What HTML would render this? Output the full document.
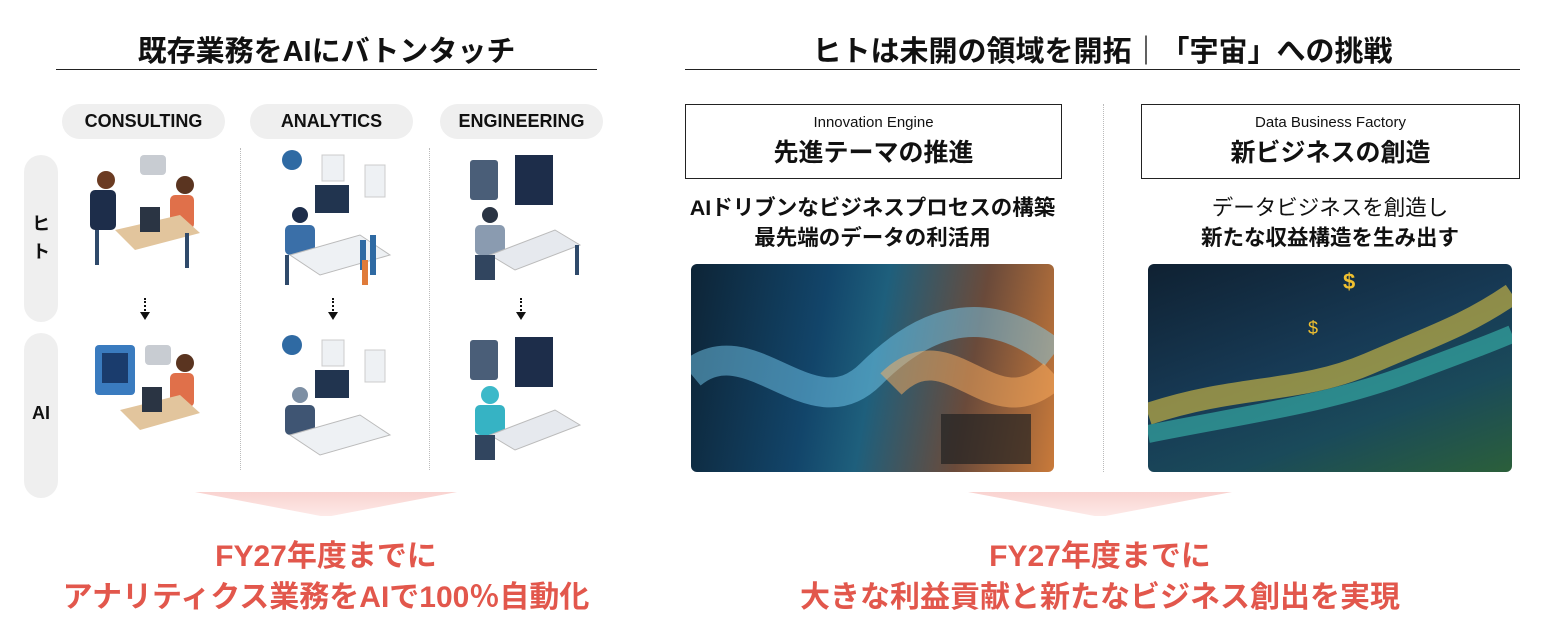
<!DOCTYPE html>
<html><head><meta charset="utf-8"><style>
body{margin:0;width:1559px;height:639px;background:#fff;position:relative;overflow:hidden;font-family:"Liberation Sans","Noto Sans CJK JP",sans-serif;color:#111}
.a{position:absolute}
.t{font-weight:bold;font-size:29px;text-align:center}
.pill{position:absolute;background:#efefef;border-radius:18px;font-weight:bold;font-size:18px;text-align:center;line-height:35px;height:35px}
.side{position:absolute;background:#efefef;border-radius:17px;width:34px;font-weight:bold;font-size:18px;text-align:center}
.vd{position:absolute;border-left:1px dotted #bbb;width:0}
.arr{position:absolute;width:2px;height:16px;border-left:2px dotted #111}
.arr:after{content:"";position:absolute;left:-6px;top:14px;border-left:5px solid transparent;border-right:5px solid transparent;border-top:8px solid #111}
.box{position:absolute;border:1px solid #222;text-align:center}
.red{color:#e2574c;font-weight:bold;font-size:30px;text-align:center;line-height:41px}
.trap{position:absolute;height:24px;background:linear-gradient(#f9d3d0,#fde9e7);clip-path:polygon(0 0,100% 0,52% 100%,48% 100%)}
</style></head><body>
<div class="a t" style="left:56px;width:541px;top:28px">既存業務をAIにバトンタッチ</div>
<div class="a" style="left:56px;width:541px;top:69px;border-top:1.5px solid #222"></div>
<div class="a t" style="left:685px;width:835px;top:28px">ヒトは未開の領域を開拓｜「宇宙」への挑戦</div>
<div class="a" style="left:685px;width:835px;top:69px;border-top:1.5px solid #222"></div>

<div class="pill" style="left:62px;top:104px;width:163px">CONSULTING</div>
<div class="pill" style="left:250px;top:104px;width:163px">ANALYTICS</div>
<div class="pill" style="left:440px;top:104px;width:163px">ENGINEERING</div>
<div class="side" style="left:24px;top:155px;height:167px;padding-top:0"><div style="margin-top:55px;line-height:28px">ヒ<br>ト</div></div>
<div class="side" style="left:24px;top:333px;height:165px"><div style="margin-top:70px">AI</div></div>
<div class="vd" style="left:240px;top:148px;height:322px"></div>
<div class="vd" style="left:429px;top:148px;height:322px"></div>
<div class="arr" style="left:144px;top:298px"></div>
<div class="arr" style="left:332px;top:298px"></div>
<div class="arr" style="left:520px;top:298px"></div>

<svg class="a" style="left:60px;top:145px" width="560" height="330">
<g fill="#2f4a6b">
<rect x="80" y="10" width="26" height="20" rx="4" fill="#c8ccd2"/>
<circle cx="46" cy="35" r="9" fill="#6b3b22"/><rect x="30" y="45" width="26" height="40" rx="5" fill="#1d2d4a"/>
<circle cx="125" cy="40" r="9" fill="#5a3420"/><rect x="110" y="50" width="24" height="34" rx="5" fill="#e0704a"/>
<polygon points="55,85 120,70 140,88 75,105" fill="#e2c59d"/><rect x="80" y="62" width="20" height="25" fill="#2a3443"/>
<rect x="35" y="85" width="4" height="35"/><rect x="125" y="88" width="4" height="35"/>
<rect x="35" y="200" width="40" height="50" rx="4" fill="#3a7bbf"/><rect x="42" y="208" width="26" height="30" fill="#1a3c6d"/>
<rect x="85" y="200" width="26" height="20" rx="4" fill="#c8ccd2"/>
<circle cx="125" cy="218" r="9" fill="#5a3420"/><rect x="110" y="228" width="24" height="34" rx="5" fill="#e0704a"/>
<polygon points="60,265 120,250 140,268 80,285" fill="#e2c59d"/><rect x="82" y="242" width="20" height="25" fill="#2a3443"/>
<circle cx="232" cy="15" r="10" fill="#2f6aa3"/><rect x="262" y="10" width="22" height="26" fill="#eef1f4" stroke="#ccc"/>
<rect x="305" y="20" width="20" height="32" fill="#eef1f4" stroke="#ccc"/>
<rect x="255" y="40" width="34" height="28" fill="#21344f"/>
<circle cx="240" cy="70" r="8" fill="#1d2d4a"/><rect x="225" y="80" width="30" height="30" rx="5" fill="#3a6fa8"/>
<polygon points="230,110 300,90 330,110 260,130" fill="#eef1f4" stroke="#bbb"/>
<rect x="300" y="95" width="6" height="30" fill="#2f6aa3"/><rect x="310" y="90" width="6" height="40" fill="#2f6aa3"/><rect x="302" y="115" width="6" height="25" fill="#e07b3a"/>
<rect x="225" y="110" width="4" height="30"/>
<circle cx="232" cy="200" r="10" fill="#2f6aa3"/><rect x="262" y="195" width="22" height="26" fill="#eef1f4" stroke="#ccc"/>
<rect x="305" y="205" width="20" height="32" fill="#eef1f4" stroke="#ccc"/>
<rect x="255" y="225" width="34" height="28" fill="#21344f"/>
<circle cx="240" cy="250" r="8" fill="#7d8fa4"/><rect x="225" y="260" width="30" height="30" rx="5" fill="#3f5573"/>
<polygon points="230,290 300,270 330,290 260,310" fill="#eef1f4" stroke="#bbb"/>
<rect x="410" y="15" width="28" height="40" rx="3" fill="#4a5e78"/>
<rect x="455" y="10" width="38" height="50" fill="#1d2d4a"/>
<circle cx="430" cy="70" r="8" fill="#2a3443"/><rect x="415" y="80" width="30" height="30" rx="5" fill="#8a9bb0"/>
<polygon points="430,110 495,85 520,100 455,125" fill="#e6e9ee" stroke="#bbb"/>
<rect x="415" y="110" width="20" height="25" fill="#31455f"/><rect x="515" y="100" width="4" height="30"/>
<rect x="410" y="195" width="28" height="40" rx="3" fill="#4a5e78"/>
<rect x="455" y="192" width="38" height="50" fill="#1d2d4a"/>
<circle cx="430" cy="250" r="9" fill="#3cb9c9"/><rect x="415" y="260" width="30" height="30" rx="5" fill="#36b3c4"/>
<polygon points="430,290 495,265 520,280 455,305" fill="#e6e9ee" stroke="#bbb"/>
<rect x="415" y="290" width="20" height="25" fill="#31455f"/>
</g></svg>

<div class="trap" style="left:195px;top:492px;width:262px"></div>
<div class="a red" style="left:10px;width:632px;top:536px">FY27年度までに<br>アナリティクス業務をAIで100％自動化</div>

<div class="vd" style="left:1103px;top:104px;height:368px"></div>
<div class="box" style="left:685px;top:104px;width:375px;height:73px">
<div style="font-size:15px;margin-top:9px">Innovation Engine</div>
<div style="font-size:25px;font-weight:bold;margin-top:2px">先進テーマの推進</div></div>
<div class="box" style="left:1141px;top:104px;width:377px;height:73px">
<div style="font-size:15px;margin-top:9px">Data Business Factory</div>
<div style="font-size:25px;font-weight:bold;margin-top:2px">新ビジネスの創造</div></div>
<div class="a" style="left:660px;width:425px;top:193px;text-align:center;font-weight:bold;font-size:21.5px;line-height:30px">AIドリブンなビジネスプロセスの構築<br>最先端のデータの利活用</div>
<div class="a" style="left:1120px;width:420px;top:193px;text-align:center;font-size:21.5px;line-height:30px">データビジネスを創造し<br><b>新たな収益構造を生み出す</b></div>

<div class="a" style="left:691px;top:264px;width:363px;height:208px;border-radius:6px;overflow:hidden;background:linear-gradient(100deg,#0d2436 0%,#12456a 35%,#1e5f7c 50%,#6a4a3a 75%,#c97a3a 100%)">
<svg width="363" height="208"><path d="M0,110 C60,60 120,170 180,110 S300,40 363,90" stroke="#7fd9ff" stroke-width="30" fill="none" opacity=".45"/>
<path d="M200,120 C260,60 300,170 363,110" stroke="#ffb060" stroke-width="30" fill="none" opacity=".5"/>
<g fill="#222"><rect x="250" y="150" width="90" height="50" opacity=".7"/></g></svg></div>
<div class="a" style="left:1148px;top:264px;width:364px;height:208px;border-radius:6px;overflow:hidden;background:linear-gradient(160deg,#0f2132 0%,#173a55 45%,#1a4a5a 70%,#2b5f3a 100%)">
<svg width="364" height="208"><path d="M0,150 C90,120 150,130 220,100 S320,60 364,30" stroke="#f0d040" stroke-width="22" fill="none" opacity=".55"/>
<path d="M0,170 C100,150 180,140 260,110 S340,80 364,70" stroke="#3fd0c0" stroke-width="18" fill="none" opacity=".5"/>
<text x="195" y="25" fill="#f0c030" font-size="22" font-weight="bold" font-family="Liberation Sans">$</text>
<text x="160" y="70" fill="#f0c030" font-size="18" font-family="Liberation Sans">$</text></svg></div>

<div class="trap" style="left:968px;top:492px;width:264px"></div>
<div class="a red" style="left:650px;width:900px;top:536px">FY27年度までに<br>大きな利益貢献と新たなビジネス創出を実現</div>
</body></html>
